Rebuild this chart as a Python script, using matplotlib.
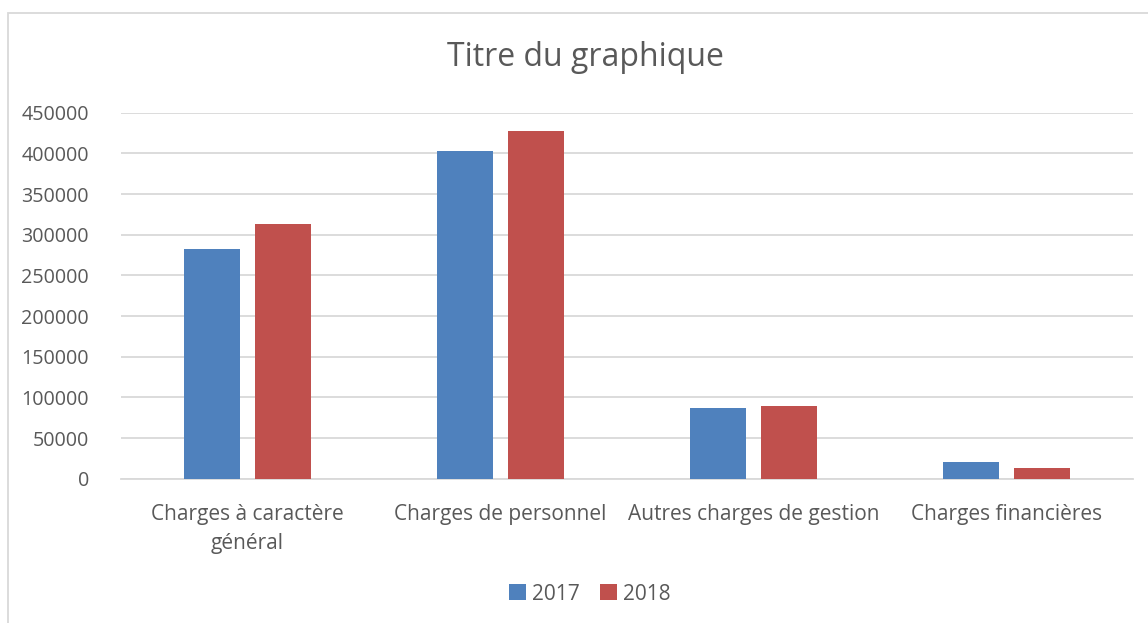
import matplotlib.pyplot as plt
from matplotlib.patches import Rectangle
import numpy as np

categories = ["Charges à caractère\ngénéral", "Charges de personnel",
              "Autres charges de gestion", "Charges financières"]
years = ["2017", "2018"]
values_2017 = [283000, 403500, 87000, 21000]
values_2018 = [313500, 427000, 89500, 13200]
colors = ["#4F81BD", "#C0504D"]

plt.rcParams['font.family'] = ['Open Sans', 'DejaVu Sans']
text_color = "#595959"

fig = plt.figure(figsize=(11.48, 6.23), dpi=100)
ax = fig.add_axes([121 / 1148, 1 - 478.7 / 623, 1012 / 1148, 366 / 623])

x = np.arange(len(categories))
w = 0.221
gap = 0.063
ax.bar(x - (w + gap) / 2, values_2017, w, color=colors[0], label=years[0], zorder=3)
ax.bar(x + (w + gap) / 2, values_2018, w, color=colors[1], label=years[1], zorder=3)

ax.set_xlim(-0.5, len(categories) - 0.5)
ax.set_ylim(0, 450000)
ax.set_yticks(np.arange(0, 450001, 50000))
ax.set_yticklabels([str(v) for v in range(0, 450001, 50000)])
ax.yaxis.grid(True, color="#D9D9D9", linewidth=1.3, zorder=0)
ax.set_xticks(x)
ax.set_xticklabels(categories, linespacing=1.55)
for s in ["top", "right", "left"]:
    ax.spines[s].set_visible(False)
ax.spines["bottom"].set_color("#D9D9D9")
ax.spines["bottom"].set_linewidth(1.3)
ax.tick_params(axis="both", length=0, colors=text_color, labelsize=15)
ax.tick_params(axis="y", labelsize=14.2, pad=23)
ax.tick_params(axis="x", pad=18)

fig.text(585 / 1148, 1 - 58 / 623, "Titre du graphique", ha="center", va="center",
         fontsize=23, color=text_color)

leg = fig.legend(loc="center", bbox_to_anchor=(590 / 1148, 1 - 594 / 623), ncol=2,
                 frameon=False, fontsize=15, handlelength=0.8, handleheight=0.8,
                 handletextpad=0.3, columnspacing=1.0)
for t in leg.get_texts():
    t.set_color(text_color)

fig.patches.append(Rectangle((8 / 1148, -0.1), 1.2, 1 - 13 / 623 + 0.1,
                             transform=fig.transFigure, fill=False,
                             edgecolor="#D9D9D9", linewidth=1.3))

fig.savefig("out.png")
